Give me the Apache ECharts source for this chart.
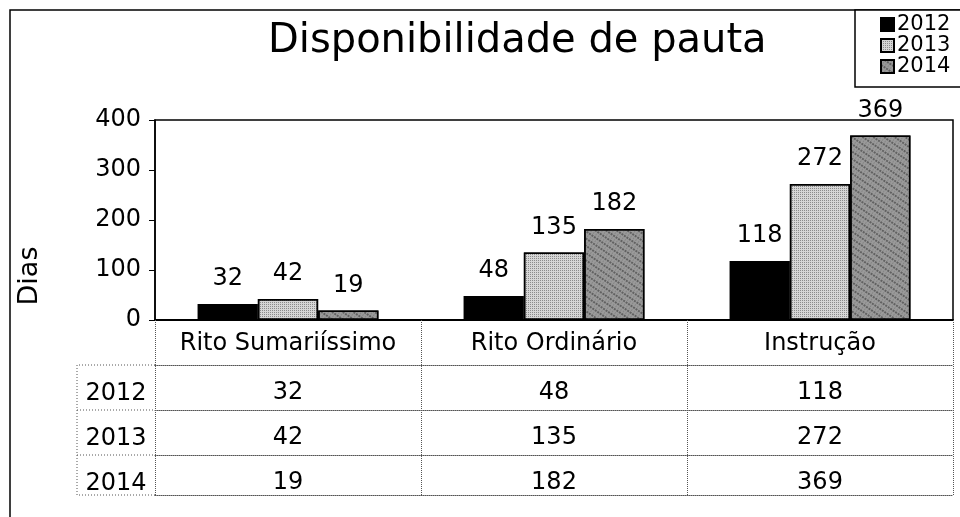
<!DOCTYPE html>
<html>
<head>
<meta charset="utf-8">
<script src="https://cdn.jsdelivr.net/npm/echarts@6/dist/echarts.min.js"></script>
<style>
  html, body { margin: 0; padding: 0; background: #fff; }
  #chart { width: 960px; height: 517px; }
</style>
</head>
<body>
<div id="chart"></div>
<script>
// dados
const categorias = ["Rito Sumariíssimo", "Rito Ordinário", "Instrução"];
const anos = ["2012", "2013", "2014"];
const v2012 = [32, 48, 118];
const v2013 = [42, 135, 272];
const v2014 = [19, 182, 369];
const yTicks = { min: 0, max: 400, interval: 100 };

const linhas = [v2012, v2013, v2014];
const fonte = "DejaVu Sans";
const rowOffsets = [45, 90, 135]; // linhas da tabela abaixo do eixo

const chart = echarts.init(document.getElementById("chart"));

// padrões (hachuras) das barras
const decais = [
  null,
  { symbol: "rect", symbolSize: 1, color: "rgba(0,0,0,0.35)", dashArrayX: [1, 1], dashArrayY: [1, 1] },
  { symbol: "circle", symbolSize: 0.9, color: "rgba(0,0,0,0.55)", dashArrayX: [[2, 1], [1, 2]], dashArrayY: [2, 1], rotation: 0.6 }
];
const cores = ["#000000", "#d6d6d6", "#9a9a9a"];

const series = anos.map((a, i) => ({
  name: a,
  type: "bar",
  data: linhas[i],
  barGap: "0%",
  barCategoryGap: "32%",
  itemStyle: Object.assign(
    { color: cores[i], borderColor: "#000", borderWidth: 1.5 },
    decais[i] ? { decal: decais[i] } : {}
  ),
  label: {
    show: true,
    position: "top",
    distance: 13,
    fontFamily: fonte,
    fontSize: 24,
    color: "#000"
  }
}));

// eixos extras para as linhas da tabela de dados
const tabelaEixos = linhas.map((vals, i) => ({
  type: "category",
  gridIndex: 0,
  position: "bottom",
  offset: rowOffsets[i],
  data: vals.map(String),
  axisLine: { show: true, lineStyle: { color: "#555", width: 1, type: "dotted" } },
  axisTick: { show: false },
  axisLabel: { interval: 0, fontFamily: fonte, fontSize: 24, color: "#000", margin: 16 }
}));
tabelaEixos.push({
  type: "category",
  gridIndex: 0,
  position: "bottom",
  offset: rowOffsets[2] + 40,
  data: categorias,
  axisLine: { show: true, lineStyle: { color: "#555", width: 1, type: "dotted" } },
  axisTick: { show: false },
  axisLabel: { show: false }
});

const gLeft = 155, gRight = 953, gTop = 120, gBottom = 320;
const colLeft = 77;

const graficos = [
  // moldura do gráfico
  { type: "polyline", shape: { points: [[10, 517], [10, 10], [960, 10]] }, style: { stroke: "#000", lineWidth: 1.5, fill: null } },
  // caixa da legenda
  { type: "rect", shape: { x: 855, y: 10, width: 110, height: 77 }, style: { stroke: "#000", lineWidth: 1.5, fill: "#fff" }, z: 0 },
  // nome do eixo y
  { type: "text", x: 30, y: 276, rotation: Math.PI / 2, style: { text: "Dias", fontFamily: fonte, fontSize: 27, fill: "#000", align: "center", verticalAlign: "middle" } },
  // coluna dos rótulos da tabela
  { type: "polyline", shape: { points: [[gLeft, gBottom + rowOffsets[0]], [colLeft, gBottom + rowOffsets[0]], [colLeft, gBottom + rowOffsets[2] + 40], [gLeft, gBottom + rowOffsets[2] + 40]] }, style: { stroke: "#555", lineWidth: 1, lineDash: [1, 2], fill: null } }
];
rowOffsets.slice(1).forEach(o => {
  graficos.push({ type: "line", shape: { x1: colLeft, y1: gBottom + o, x2: gLeft, y2: gBottom + o }, style: { stroke: "#555", lineWidth: 1, lineDash: [1, 2] } });
});
anos.forEach((a, i) => {
  graficos.push({
    type: "text",
    x: (colLeft + gLeft) / 2,
    y: gBottom + rowOffsets[i] + 29,
    style: { text: a, fontFamily: fonte, fontSize: 24, fill: "#000", align: "center", verticalAlign: "middle" }
  });
});

const option = {
  animation: false,
  backgroundColor: "#fff",
  title: {
    text: "Disponibilidade de pauta",
    left: 263,
    top: 17,
    textStyle: { fontFamily: fonte, fontSize: 40, fontWeight: "normal", color: "#000" }
  },
  legend: {
    orient: "vertical",
    left: 875,
    top: 9,
    itemWidth: 13,
    itemHeight: 13,
    itemGap: 0,
    icon: "rect",
    data: anos,
    textStyle: { fontFamily: fonte, fontSize: 21, color: "#000", padding: [0, 0, 0, -2] }
  },
  grid: {
    left: gLeft,
    right: 960 - gRight,
    top: gTop,
    bottom: 517 - gBottom,
    show: true,
    borderColor: "#000",
    borderWidth: 1.5,
    containLabel: false
  },
  xAxis: [
    {
      type: "category",
      data: categorias,
      axisLine: { lineStyle: { color: "#000", width: 2 } },
      axisTick: { show: true, interval: 0, length: 175, lineStyle: { color: "#555", width: 1, type: "dotted" } },
      axisLabel: { interval: 0, fontFamily: fonte, fontSize: 24, color: "#000", margin: 12 }
    }
  ].concat(tabelaEixos),
  yAxis: {
    type: "value",
    min: yTicks.min,
    max: yTicks.max,
    interval: yTicks.interval,
    splitLine: { show: false },
    axisLine: { show: true, lineStyle: { color: "#000", width: 1.5 } },
    axisTick: { show: true, length: 6, lineStyle: { color: "#000" } },
    axisLabel: { fontFamily: fonte, fontSize: 24, color: "#000", margin: 14 }
  },
  series: series,
  graphic: graficos
};

chart.setOption(option);
</script>
</body>
</html>
